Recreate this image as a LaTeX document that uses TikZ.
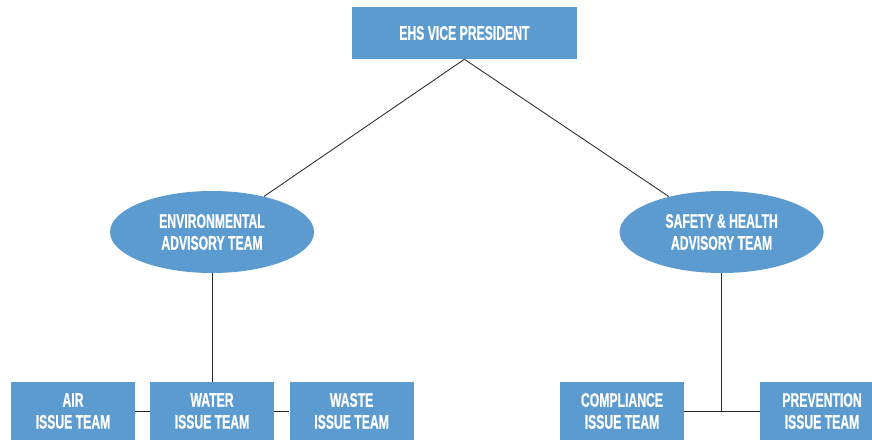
\documentclass[tikz,border=0pt]{standalone}
\usepackage{fontspec}
\newfontfamily\orgfont[FakeStretch=0.62,FakeBold=0.6]{Liberation Sans}
\usepackage{tikz}
\usetikzlibrary{shapes.geometric}
\definecolor{orgblue}{RGB}{91,155,208}

\begin{document}
\begin{tikzpicture}[
      unit/.style={fill=orgblue,text=white,align=center,inner sep=0pt,
        font=\orgfont\bfseries\fontsize{14}{15.6}\selectfont},
      topbox/.style={unit,minimum width=5.625cm,minimum height=1.3cm},
      team/.style={unit,ellipse,minimum width=5.1cm,minimum height=2.05cm},
      issue/.style={unit,minimum width=3.1cm,minimum height=1.45cm},
      wire/.style={line width=.6pt,draw=black!85}
    ]
    \useasboundingbox (0,0) rectangle (21.8,11.025);
    \clip (0,0) rectangle (21.8,11.025);

    \node[topbox] (vp) at (11.61,10.2) {EHS VICE PRESIDENT};
    \node[team] (env) at (5.3,5.225) {ENVIRONMENTAL\\ADVISORY TEAM};
    \node[team] (sh) at (18.04,5.225) {SAFETY \& HEALTH\\ADVISORY TEAM};

    \node[issue] (air) at (1.825,.75) {AIR\\ISSUE TEAM};
    \node[issue] (water) at (5.3,.75) {WATER\\ISSUE TEAM};
    \node[issue] (waste) at (8.79,.75) {WASTE\\ISSUE TEAM};
    \node[issue] (comp) at (15.55,.75) {COMPLIANCE\\ISSUE TEAM};
    \node[issue] (prev) at (20.55,.75) {PREVENTION\\ISSUE TEAM};

    \draw[wire] (vp.south) -- (env);
    \draw[wire] (vp.south) -- (sh);
    \draw[wire] (env.south) -- (water.north);
    \draw[wire] (air.east) -- (water.west);
    \draw[wire] (water.east) -- (waste.west);
    \coordinate (shfoot) at (sh.south |- comp.east);
    \draw[wire] (sh.south) -- (shfoot);
    \draw[wire] (comp.east) -- (prev.west);
  \end{tikzpicture}
\end{document}
